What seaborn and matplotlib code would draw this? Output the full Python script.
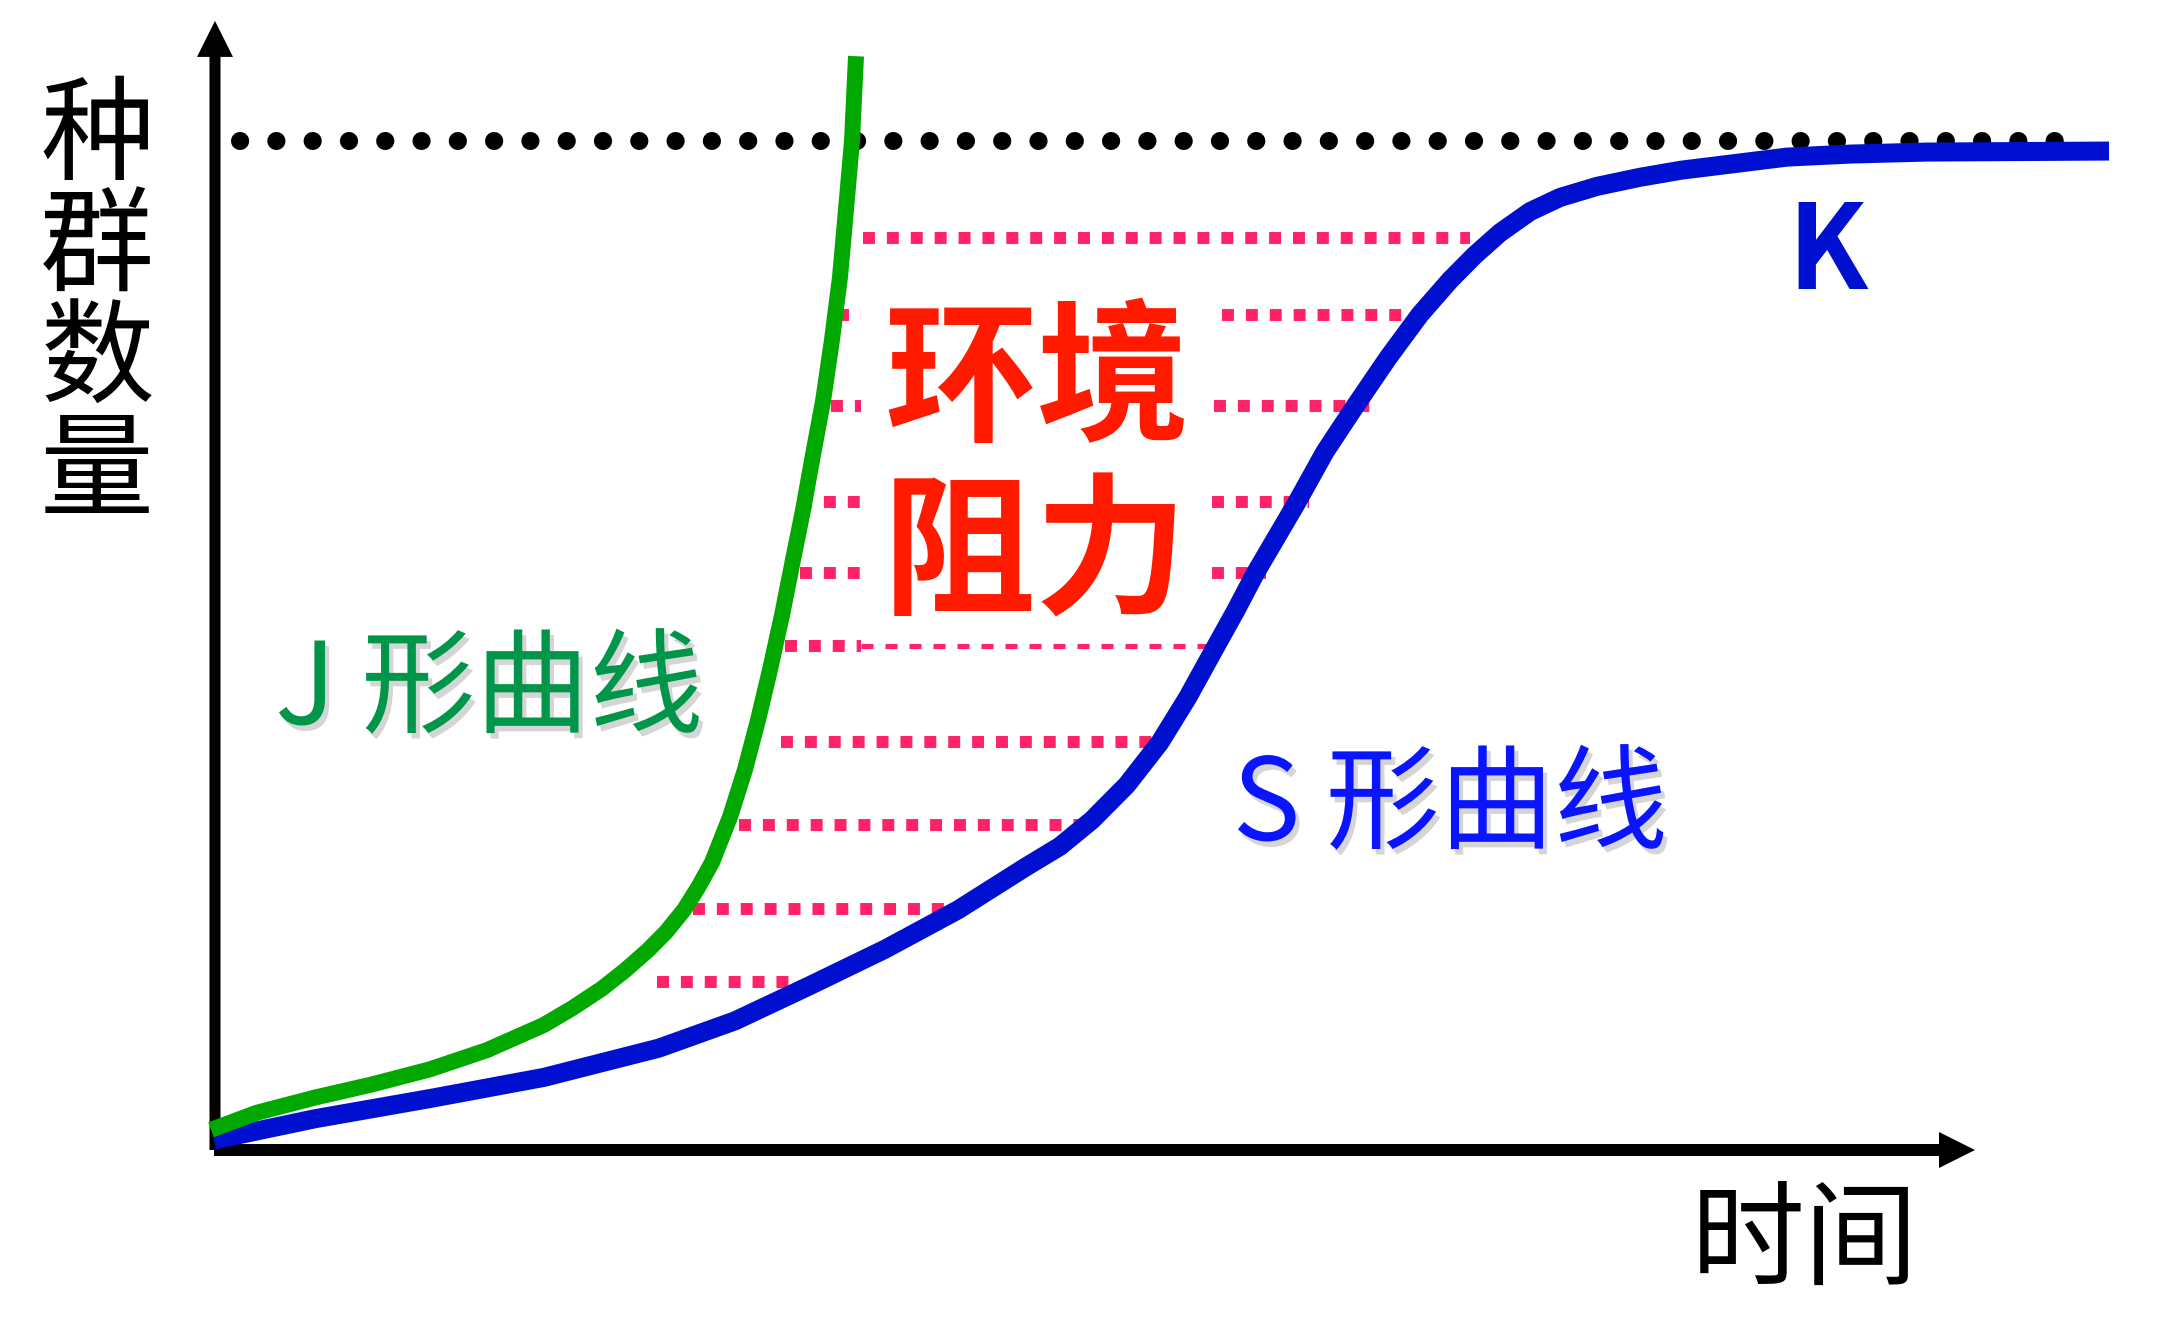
import matplotlib
matplotlib.use("Agg")
import matplotlib.pyplot as plt
import matplotlib.patheffects as pe
import seaborn as sns

# J-shaped curve (exponential growth), time vs population
j_time = [-0.3, 4.3, 10.1, 15.8, 21.6, 27.3, 33.0, 35.9, 38.8, 41.1, 43.4,
          45.2, 47.0, 48.4, 49.8, 51.6, 53.1, 54.4, 55.6, 56.8, 57.9, 58.9,
          59.9, 60.9, 61.8, 62.6, 63.2, 63.8, 64.2]
j_pop = [2.0, 3.7, 5.2, 6.5, 8.0, 9.9, 12.4, 14.1, 16.0, 17.8, 19.8,
         21.6, 23.8, 26.0, 28.5, 33.0, 37.7, 42.6, 47.6, 53.0, 58.5, 63.4,
         68.9, 74.2, 80.3, 86.5, 93.2, 100.0, 108.4]

# S-shaped curve (logistic growth)
s_time = [0.0, 10.1, 21.6, 33.0, 44.5, 52.1, 59.6, 67.1, 74.4, 81.1, 84.6,
          87.8, 91.3, 94.6, 97.4, 99.9, 102.2, 104.1, 108.3, 111.1, 114.1,
          117.4, 120.6, 123.6, 126.1, 128.6, 131.6, 134.6, 138.3, 142.6,
          146.7, 157.3, 163.6, 171.3, 189.5]
s_pop = [1.0, 3.1, 5.1, 7.2, 10.1, 12.8, 16.3, 19.9, 23.8, 28.0, 30.1,
         32.7, 36.2, 40.4, 44.9, 49.4, 53.5, 57.1, 64.2, 69.2, 73.7,
         78.5, 82.8, 86.2, 88.7, 90.9, 93.0, 94.4, 95.5, 96.4,
         97.1, 98.4, 98.7, 98.9, 99.0]

# carrying capacity K
K = 100.0
k_time = [2.6, 186.3]

# environmental resistance: dashed rows between the two curves
res_level = [90.4, 82.8, 82.8, 73.7, 73.7, 64.2, 64.2, 57.2, 57.2, 49.9,
             40.4, 32.2, 23.9, 16.7]
res_start = [64.9, 62.3, 100.8, 61.7, 100.0, 58.6, 99.8, 58.6, 99.8, 57.1,
             56.7, 52.5, 47.9, 44.3]
res_end = [125.6, 64.7, 121.1, 64.7, 115.7, 64.7, 109.5, 64.7, 105.2, 64.7,
           95.1, 87.3, 75.1, 57.5]
thin_level = [49.9]
thin_start = [64.7]
thin_end = [99.4]

W, H = 2165, 1327
sns.set_style("white")
plt.rcParams['font.family'] = ['Noto Sans CJK SC', 'DejaVu Sans']

fig = plt.figure(figsize=(W / 100, H / 100), dpi=100)
ax = fig.add_axes([0, 0, 1, 1])
ax.set_xlim(-21.4, 195.1)
ax.set_ylim(-17.54, 113.97)
ax.set_axis_off()

# axes with arrow heads
ax.arrow(0.1, 0, 0, 111.9, width=1.1, head_width=3.6, head_length=3.57,
         length_includes_head=True, fc='black', ec='none')
ax.arrow(0, 0, 176.1, 0, width=1.19, head_width=3.57, head_length=3.6,
         length_includes_head=True, fc='black', ec='none')

# K dotted line
ax.plot(k_time, [K, K], color='black', lw=13, linestyle=(0, (0.01, 2)),
        dash_capstyle='round')

# resistance rows
ax.hlines(res_level, res_start, res_end, colors='#FF2266', linewidth=8.6,
          linestyles=(0, (1, 1)))
ax.hlines(thin_level, thin_start, thin_end, colors='#FF2266', linewidth=3.6,
          linestyles=(0, (2.4, 2.4)))

# growth curves
sns.lineplot(x=s_time, y=s_pop, color='#0010D0', linewidth=13.7, ax=ax,
             sort=False, solid_capstyle='butt', solid_joinstyle='round')
sns.lineplot(x=j_time, y=j_pop, color='#00A800', linewidth=11.5, ax=ax,
             sort=False, solid_capstyle='butt', solid_joinstyle='round')


def fx(px):
    return px / W


def fy(py):
    return 1 - py / H


# axis titles
for ch, yc in zip("种群数量", [138, 250, 362, 474]):
    fig.text(fx(97), fy(yc), ch, fontsize=82, color='black',
             ha='center', va='center')
fig.text(fx(1805), fy(1243), "时间", fontsize=82, color='black',
         ha='center', va='center')

# labels
shadow = [pe.withSimplePatchShadow(offset=(3, -4), shadow_rgbFace='#777777',
                                   alpha=0.3)]
fig.text(fx(489), fy(691), "J 形曲线", fontsize=82, color='#00964A',
         ha='center', va='center', path_effects=shadow)
fig.text(fx(1450), fy(807), "S 形曲线", fontsize=82, color='#0A14FF',
         ha='center', va='center', path_effects=shadow)
fig.text(fx(1827), fy(255), "K", fontsize=84, color='#0010D0',
         fontweight='bold', ha='center', va='center')
fig.text(fx(1037), fy(384), "环境", fontsize=110, color='#FF1A00',
         fontweight='black', ha='center', va='center')
fig.text(fx(1035), fy(558), "阻力", fontsize=110, color='#FF1A00',
         fontweight='black', ha='center', va='center')

fig.savefig("out.png", dpi=100)
